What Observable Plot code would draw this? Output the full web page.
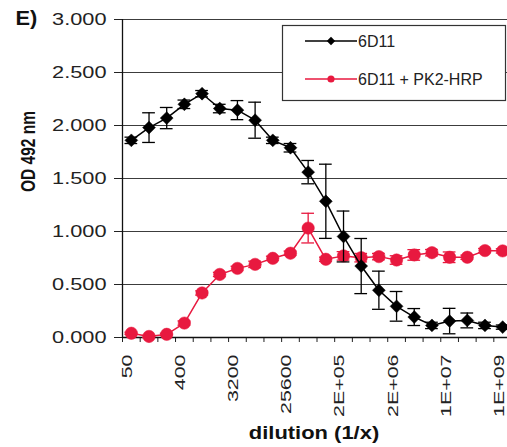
<!DOCTYPE html>
<html>
<head>
<meta charset="utf-8">
<script src="https://cdn.jsdelivr.net/npm/d3@7"></script>
<script src="https://cdn.jsdelivr.net/npm/@observablehq/plot@0.6"></script>
<style>
  html, body { margin: 0; padding: 0; background: #fff; overflow: hidden; }
  #chart svg { display: block; }
</style>
</head>
<body>
<div id="chart"></div>
<script>
// Serial dilutions (1/x); only every third one is labelled on the axis
const dilutions = ["50", "100", "200", "400", "800", "1600", "3200", "6400", "12800", "25600",
  "51200", "1E+05", "2E+05", "4E+05", "8E+05", "2E+06", "3E+06", "7E+06", "1E+07", "3E+07",
  "5E+07", "1E+09"];

// OD 492 nm, 6D11 alone (mean and error)
const od6D11 = [1.86, 1.98, 2.07, 2.20, 2.30, 2.16, 2.145, 2.05, 1.86, 1.79, 1.56, 1.285,
  0.953, 0.674, 0.446, 0.294, 0.193, 0.114, 0.155, 0.161, 0.114, 0.098];
const err6D11 = [0.03, 0.14, 0.10, 0.04, 0.03, 0.04, 0.09, 0.17, 0.03, 0.04, 0.11, 0.35,
  0.24, 0.26, 0.18, 0.14, 0.08, 0.03, 0.12, 0.07, 0.03, 0.02];

// OD 492 nm, 6D11 + PK2-HRP (mean and error)
const odPK2 = [0.04, 0.01, 0.03, 0.136, 0.42, 0.595, 0.652, 0.69, 0.747, 0.795, 1.032, 0.738,
  0.77, 0.753, 0.763, 0.731, 0.779, 0.80, 0.757, 0.757, 0.82, 0.817];
const errPK2 = [0.01, 0.01, 0.01, 0.02, 0.02, 0.02, 0.02, 0.03, 0.02, 0.02, 0.14, 0.02,
  0.04, 0.04, 0.03, 0.04, 0.05, 0.03, 0.05, 0.02, 0.02, 0.02];

const yTicks = [0, 0.5, 1, 1.5, 2, 2.5, 3];
const labelStep = 3;

const seriesNames = ["6D11", "6D11 + PK2-HRP"];
const seriesColors = ["#000000", "#e8193f"];

const FONT = "'Liberation Sans', Arial, Helvetica, sans-serif";
const INK = "#222";

const rows = (ods, errs) => dilutions.map((d, i) => ({i, label: d, v: ods[i], e: errs[i]}));
const black = rows(od6D11, err6D11);
const red = rows(odPK2, errPK2);
const labelled = dilutions.map((d, i) => i).filter(i => i % labelStep === 0);
const CAP = 0.36;

function series(data, color, symbol, r) {
  return [
    Plot.line(data, {x: "i", y: "v", stroke: color, strokeWidth: 1.5}),
    Plot.ruleX(data, {x: "i", y1: d => d.v - d.e, y2: d => d.v + d.e, stroke: color, strokeWidth: 1.3}),
    Plot.ruleY(data, {y: d => d.v + d.e, x1: d => d.i - CAP, x2: d => d.i + CAP, stroke: color, strokeWidth: 1.3}),
    Plot.ruleY(data, {y: d => d.v - d.e, x1: d => d.i - CAP, x2: d => d.i + CAP, stroke: color, strokeWidth: 1.3}),
    Plot.dot(data, {x: "i", y: "v", symbol, r, fill: color, stroke: color, strokeWidth: 0.5})
  ];
}

const chart = Plot.plot({
  width: 507,
  height: 447,
  marginLeft: 122,
  marginRight: 0,
  marginTop: 19,
  marginBottom: 110,
  style: {fontFamily: FONT, color: INK, background: "#fff"},
  x: {type: "linear", domain: [-0.5, dilutions.length - 0.5], range: [122, 511], axis: null},
  y: {domain: [0, 3], axis: null},
  marks: [
    // horizontal gridlines
    Plot.ruleY(yTicks, {stroke: "#3c3c3c", strokeWidth: 1}),
    // y axis: ticks outside and labels
    Plot.axisY({ticks: yTicks, tickSize: 8, tickPadding: 8, tickFormat: d3.format(".3f"),
      label: null, fontSize: 17, stroke: "#222", fill: INK}),
    // x axis ticks sit between categories
    Plot.axisX({ticks: d3.range(-0.5, dilutions.length, 1), tickSize: 5, tickFormat: () => "",
      label: null, stroke: "#222"}),
    Plot.ruleX([-0.5], {stroke: "#111", strokeWidth: 1.3}),
    Plot.ruleY([0], {stroke: "#111", strokeWidth: 1.3}),
    // rotated category labels
    Plot.text(labelled, {x: d => d, text: d => dilutions[d], frameAnchor: "bottom", rotate: -90,
      textAnchor: "end", lineAnchor: "middle", dy: 17, dx: -4, fontSize: 15.5, fill: INK,
      ariaDescription: "x tick labels"}),
    Plot.text(["dilution (1/x)"], {frameAnchor: "bottom", textAnchor: "middle", lineAnchor: "bottom",
      dy: 101, dx: -1, fontSize: 18, fontWeight: "bold", fill: "#111", ariaDescription: "x title"}),
    Plot.text(["OD 492 nm"], {frameAnchor: "left", rotate: -90, textAnchor: "middle", lineAnchor: "middle",
      dx: -94, dy: -27, fontSize: 21, fontWeight: "bold", fill: "#111", ariaDescription: "y title"}),
    Plot.text(["E)"], {frameAnchor: "top-left", textAnchor: "start", lineAnchor: "middle",
      dx: -107, dy: -1, fontSize: 19.5, fontWeight: "bold", fill: "#111", ariaDescription: "panel tag"}),
    ...series(red, seriesColors[1], "circle", 6.2),
    ...series(black, seriesColors[0], "diamond2", 5.8)
  ]
});

document.getElementById("chart").appendChild(chart);

// Widen text along its reading direction, keeping its anchor fixed
function widen(selection, k) {
  selection.each(function () {
    const t = this.getAttribute("transform");
    if (t) {
      this.setAttribute("transform", `${t} scale(${k},1)`);
    } else {
      const x = +this.getAttribute("x") || 0, y = +this.getAttribute("y") || 0;
      this.removeAttribute("x");
      this.removeAttribute("y");
      this.setAttribute("transform", `translate(${x},${y}) scale(${k},1)`);
    }
  });
}
const svg = d3.select(chart);
widen(svg.selectAll('g[aria-label="y-axis tick label"] text'), 1.28);
widen(svg.selectAll('g[aria-description="x tick labels"] text'), 1.38);
widen(svg.selectAll('g[aria-description="x title"] text'), 1.22);
widen(svg.selectAll('g[aria-description="y title"] text'), 0.74);
widen(svg.selectAll('g[aria-description="panel tag"] text'), 1.12);

// Legend box in the upper right of the plot area
const legend = svg.append("g").attr("font-family", FONT).attr("font-size", 16)
  .attr("fill", INK).attr("text-anchor", "start");
legend.append("rect").attr("x", 282.5).attr("y", 25.5).attr("width", 223).attr("height", 75)
  .attr("fill", "#fff").attr("stroke", "#333").attr("stroke-width", 1.2);
seriesNames.forEach((name, k) => {
  const y = 41 + k * 38;
  const g = legend.append("g");
  g.append("line").attr("x1", 305).attr("x2", 357).attr("y1", y).attr("y2", y)
    .attr("stroke", seriesColors[k]).attr("stroke-width", 1.5);
  g.append("path").attr("transform", `translate(331,${y})`)
    .attr("d", d3.symbol(k === 0 ? d3.symbolDiamond2 : d3.symbolCircle, k === 0 ? 45 : 40)())
    .attr("fill", seriesColors[k]);
  g.append("text").attr("x", 358).attr("y", y).attr("dy", "0.35em").text(name);
});
</script>
</body>
</html>
